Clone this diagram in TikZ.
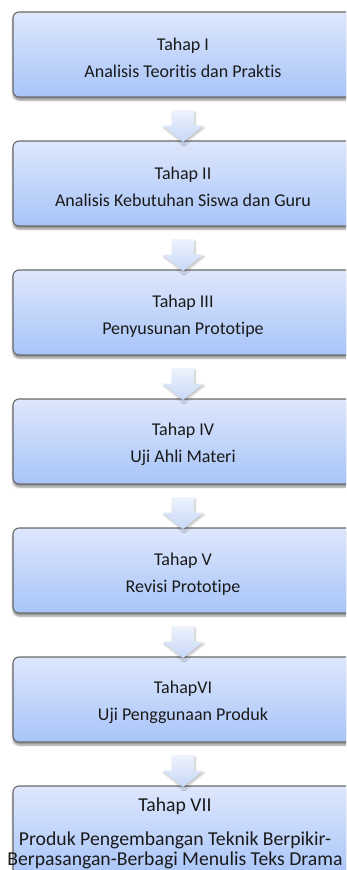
\documentclass[tikz,border=0pt]{standalone}
\usepackage{fontspec}
\setmainfont{Carlito}[Ligatures=NoCommon]
\usetikzlibrary{shapes.arrows,shadows.blur,calc}
\definecolor{boxtop}{HTML}{DDE7FC}
\definecolor{boxbot}{HTML}{A8C4F8}
\definecolor{boxline}{HTML}{6A6A6A}
\definecolor{arrtop}{HTML}{EEF3FD}
\definecolor{arrbot}{HTML}{C6D7F7}
\definecolor{txt}{HTML}{1A1A1A}
\tikzset{
  stagebox/.style={rectangle, rounded corners=6pt, draw=boxline, line width=1.1pt,
    top color=boxtop, bottom color=boxbot, minimum width=340pt, minimum height=85pt,
    inner sep=0pt, align=center, text=txt, font=\fontsize{18}{27}\selectfont,
    blur shadow={shadow xshift=0pt, shadow yshift=-3pt, shadow blur steps=6, shadow opacity=45}},
  lasttext/.style={inner sep=0pt, align=center, text=txt, font=\fontsize{19.7}{20}\selectfont},
  downarrow/.style={single arrow, shape border rotate=270, draw=none,
    top color=arrtop, bottom color=arrbot, minimum height=32pt, minimum width=40pt,
    inner sep=11pt, single arrow head extend=9pt, single arrow tip angle=102,
    blur shadow={shadow xshift=1pt, shadow yshift=-2pt, shadow blur steps=4, shadow opacity=25}}
}
\begin{document}
\begin{tikzpicture}[x=1pt,y=1pt]
\useasboundingbox (0,0) rectangle (346,-870);
\clip (0,0) rectangle (346,-870);
\node[stagebox] (s1) at (183,-54.5) {\strut Tahap I\\ Analisis Teoritis dan Praktis};
\node[stagebox] (s2) at (183,-183.5) {\strut Tahap II\\ Analisis Kebutuhan Siswa dan Guru};
\node[stagebox] (s3) at (183,-312.5) {\strut Tahap III\\ Penyusunan Prototipe};
\node[stagebox] (s4) at (183,-441.5) {\strut Tahap IV\\ Uji Ahli Materi};
\node[stagebox] (s5) at (183,-570.5) {\strut Tahap V\\ Revisi Prototipe};
\node[stagebox] (s6) at (183,-699.5) {\strut TahapVI\\ Uji Penggunaan Produk};
\node[stagebox, minimum height=92pt] (s7) at (183,-832) {};
\node[lasttext] (t7) at ($(s7.north)+(-8,-47.5)$)
  {Tahap VII\\[14pt] Produk Pengembangan Teknik Berpikir-\\ Berpasangan-Berbagi Menulis Teks Drama};
\node[downarrow] (a1) at ($(s1.south)+(0,-24)$) {};
\node[downarrow] (a2) at ($(s2.south)+(0,-24)$) {};
\node[downarrow] (a3) at ($(s3.south)+(0,-24)$) {};
\node[downarrow] (a4) at ($(s4.south)+(0,-24)$) {};
\node[downarrow] (a5) at ($(s5.south)+(0,-24)$) {};
\node[downarrow] (a6) at ($(s6.south)+(0,-24)$) {};
\end{tikzpicture}
\end{document}
